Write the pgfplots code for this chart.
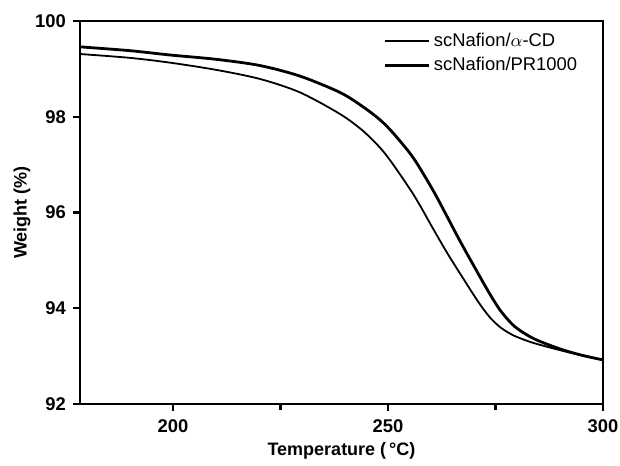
\documentclass[border=0pt]{standalone}
\usepackage{fontspec}
\setmainfont{Liberation Sans}
\usepackage{pgfplots}
\pgfplotsset{compat=1.18}
\usetikzlibrary{calc}

\pgfplotstableread{
T W
178.4 99.46
190 99.38
199.3 99.29
210 99.20
220.2 99.07
229.5 98.85
238.8 98.51
244 98.22
248.1 97.94
251.2 97.66
255.9 97.14
260.5 96.46
263.6 95.94
266 95.53
268 95.20
270 94.88
272 94.56
274 94.25
276 93.97
278 93.75
280 93.58
284 93.36
290 93.15
295 93.02
300 92.92
}\prtable

\pgfplotstableread{
T W
178.4 99.31
190 99.23
199.3 99.13
210 98.98
220.2 98.79
229.5 98.51
238.8 98.06
244 97.72
248.1 97.36
250.5 97.09
253 96.77
255.9 96.38
258 96.06
260.5 95.66
263.6 95.18
265.6 94.89
268 94.55
270.2 94.24
272.2 93.98
274 93.78
276 93.61
278 93.49
280 93.40
284 93.27
291.5 93.09
296 93.00
300 92.92
}\cdtable

\begin{document}
\begin{tikzpicture}
\begin{axis}[
  scale only axis, width=261.5pt, height=191.5pt,
  xmin=178.4, xmax=300, ymin=92, ymax=100,
  xtick={200,250,300}, minor xtick={225,275},
  ytick={92,94,96,98,100}, minor ytick={},
  axis line style={line width=1.2pt},
  every tick/.style={line width=1.1pt, black},
  major tick length=3.5pt, minor tick length=3pt,
  tick align=outside, xtick pos=bottom, ytick pos=left,
  /pgf/number format/assume math mode=true,
  tick label style={font=\fontsize{9.2}{10}\selectfont\bfseries},
  xticklabel style={yshift=-1pt},
  xlabel={Temperature (\,\textdegree C)}, ylabel={Weight (\%)},
  label style={font=\fontsize{9}{10}\selectfont\bfseries},
  xlabel style={yshift=2pt},
  ylabel style={yshift=-4.5pt},
  legend style={draw=none, fill=none, at={(0.575,0.985)}, anchor=north west,
    font=\fontsize{9.2}{11}\selectfont, row sep=0pt, inner sep=1pt},
  legend cell align=left,
  legend image code/.code={\draw[#1] (0pt,0pt) -- (22pt,0pt);},
]
\addplot[black, line width=0.9pt, smooth, tension=0.5] table {\cdtable};
\addlegendentry{scNafion/$\alpha$-CD}
\addplot[black, line width=1.4pt, smooth, tension=0.5] table {\prtable};
\addlegendentry{scNafion/PR1000}
\end{axis}
\pgfresetboundingbox
\useasboundingbox ($(current axis.south west)+(-40pt,-31pt)$) rectangle ($(current axis.north east)+(8.5pt,10.5pt)$);
\end{tikzpicture}
\end{document}
